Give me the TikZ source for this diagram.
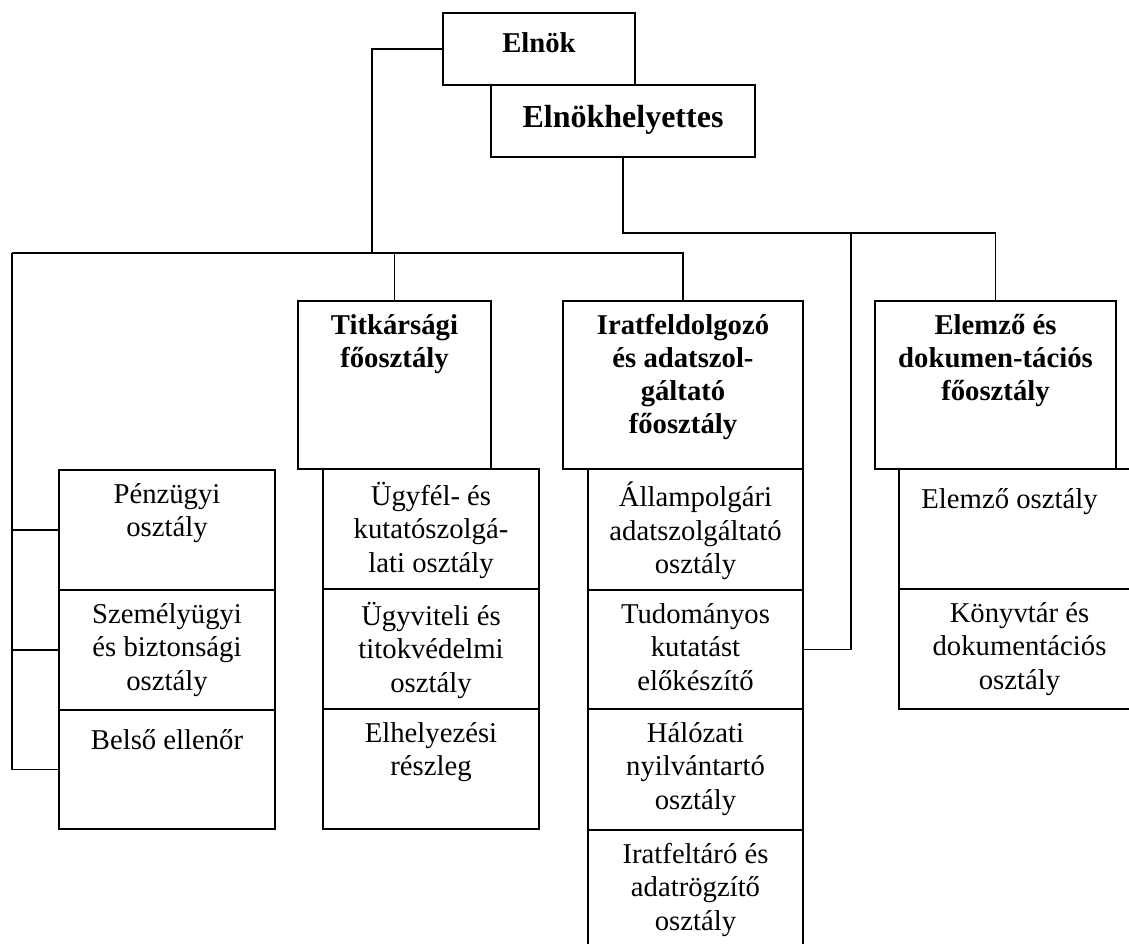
\documentclass[tikz,border=0pt]{standalone}
\usepackage{fontspec}
\setmainfont{Liberation Serif}
\tikzset{
  box/.style={draw, line width=1.8pt, inner sep=0pt, outer sep=0pt, anchor=north west},
  txt/.style={anchor=north, inner sep=0pt, align=center,
    font=\fontsize{28.7}{33.5}\selectfont, execute at begin node={\rule{0pt}{26pt}}},
  hd/.style={txt, font=\bfseries\fontsize{28.7}{33}\selectfont},
  conn/.style={line width=1.8pt},
}
\begin{document}
\begin{tikzpicture}[x=1pt,y=-1pt]
\useasboundingbox (0,0) rectangle (1129,944);
% top boxes
\node[box, minimum width=192pt, minimum height=72pt] (elnok) at (443,13) {};
\node[box, fill=white, minimum width=264pt, minimum height=72pt] (elh) at (491,85) {};
\node[anchor=base, inner sep=0pt, font=\bfseries\fontsize{28.7}{33}\selectfont] (elnokT) at ([yshift=-40pt]elnok.north) {Elnök};
\node[anchor=base, inner sep=0pt, font=\bfseries\fontsize{32}{36}\selectfont] (elhT) at ([yshift=-43pt]elh.north) {Elnökhelyettes};
% main departments
\node[box, minimum width=193pt, minimum height=168pt] (titk) at (298,301) {};
\node[box, minimum width=240pt, minimum height=168pt] (irat) at (563,301) {};
\node[box, minimum width=241pt, minimum height=168pt] (elem) at (875,301) {};
\node[hd] (titkT) at ([yshift=-13pt]titk.north) {Titkársági\\főosztály};
\node[hd] (iratT) at ([yshift=-13pt]irat.north) {Iratfeldolgozó\\és adatszol-\\gáltató\\főosztály};
\node[hd] (elemT) at ([yshift=-13pt]elem.north) {Elemző és\\dokumen-tációs\\főosztály};
% left column
\node[box, minimum width=216pt, minimum height=120pt] (pen) at (59,470) {};
\node[box, minimum width=216pt, minimum height=120pt] (sze) at (59,590) {};
\node[box, minimum width=216pt, minimum height=119pt] (bel) at (59,710) {};
\node[txt] (penT) at ([yshift=-13pt]pen.north) {Pénzügyi\\osztály};
\node[txt] (szeT) at ([yshift=-13pt]sze.north) {Személyügyi\\és biztonsági\\osztály};
\node[txt] (belT) at ([yshift=-13pt]bel.north) {Belső ellenőr};
% Titkarsagi subs
\node[box, minimum width=216pt, minimum height=120pt] (ugyf) at (323,469) {};
\node[box, minimum width=216pt, minimum height=120pt] (ugyv) at (323,589) {};
\node[box, minimum width=216pt, minimum height=120pt] (elhe) at (323,709) {};
\node[txt] (ugyfT) at ([yshift=-13pt]ugyf.north) {Ügyfél- és\\kutatószolgá-\\lati osztály};
\node[txt] (ugyvT) at ([yshift=-13pt]ugyv.north) {Ügyviteli és\\titokvédelmi\\osztály};
\node[txt] (elheT) at ([yshift=-13pt]elhe.north) {Elhelyezési\\részleg};
% Iratfeldolgozo subs
\node[box, minimum width=215pt, minimum height=121pt] (all) at (588,469) {};
\node[box, minimum width=215pt, minimum height=119pt] (tud) at (588,590) {};
\node[box, minimum width=215pt, minimum height=121pt] (hal) at (588,709) {};
\node[box, minimum width=215pt, minimum height=125pt] (ira) at (588,830) {};
\node[txt] (allT) at ([yshift=-13pt]all.north) {Állampolgári\\adatszolgáltató\\osztály};
\node[txt] (tudT) at ([yshift=-13pt]tud.north) {Tudományos\\kutatást\\előkészítő};
\node[txt] (halT) at ([yshift=-13pt]hal.north) {Hálózati\\nyilvántartó\\osztály};
\node[txt] (iraT) at ([yshift=-13pt]ira.north) {Iratfeltáró és\\adatrögzítő\\osztály};
% Elemzo subs
\node[box, minimum width=241pt, minimum height=120pt] (elo) at (899,469) {};
\node[box, minimum width=241pt, minimum height=120pt] (konyv) at (899,589) {};
\node[txt] (eloT) at ([yshift=-13pt,xshift=-10pt]elo.north) {Elemző osztály};
\node[txt] (konyvT) at ([yshift=-13pt]konyv.north) {Könyvtár és\\dokumentációs\\osztály};
% junctions
\coordinate (jE) at (372,253);
\coordinate (jL) at (12,253);
\coordinate (jH) at (0,233);
\coordinate (jV) at (851,233);
% connectors
\draw[conn] (elnok.west) -| (jE);
\draw[conn] (irat.north) |- (jL);
\draw[conn] (titk.north) -- (titk.north |- jL);
\draw[conn] (jL) |- (bel.west);
\draw[conn] (jL |- pen.west) -- (pen.west);
\draw[conn] (jL |- sze.west) -- (sze.west);
\draw[conn] (elh.south) |- (elem.north |- jH) -- (elem.north);
\draw[conn] (jV) |- (tud.east);
\end{tikzpicture}
\end{document}
